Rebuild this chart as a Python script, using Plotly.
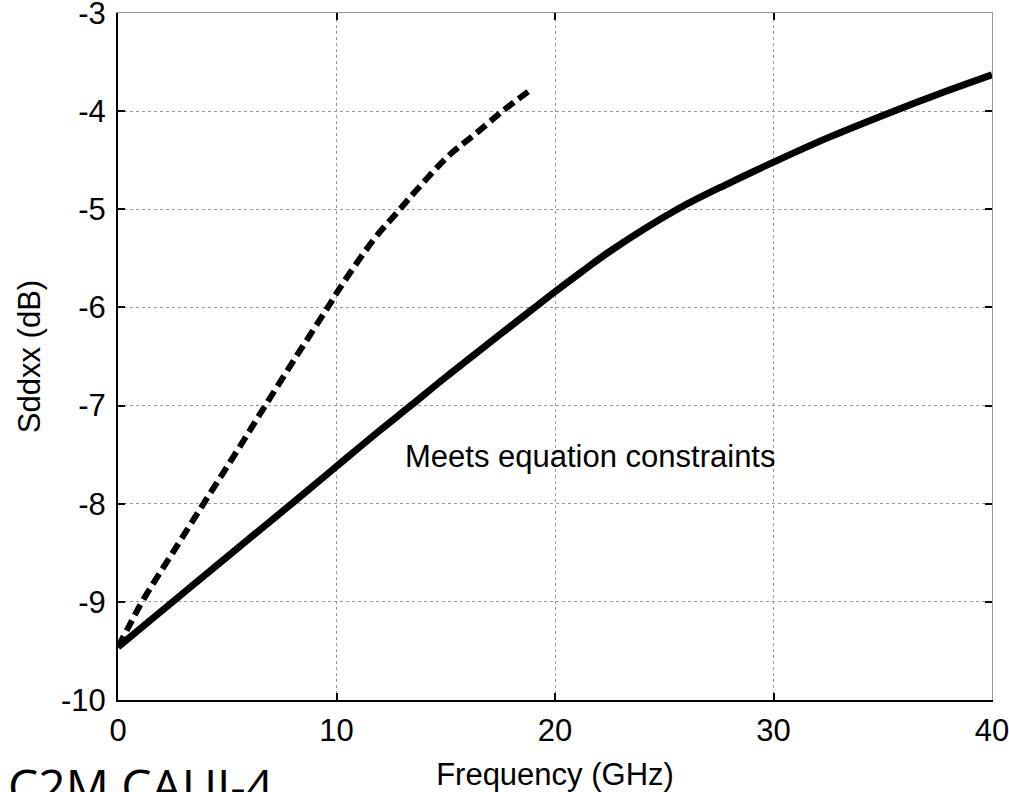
import plotly.graph_objects as go

# ---- data ----
solid_freq = [0, 2.5, 5, 7.95, 10, 12, 13.4, 15, 17, 18.9, 20, 21.2, 22.5, 25.6, 28, 30, 32.5, 35.5, 37.5, 40]
solid_sdd = [-9.46, -9.0, -8.54, -8.0, -7.62, -7.25, -7.0, -6.71, -6.36, -6.03, -5.84, -5.64, -5.43,
             -5.0, -4.73, -4.52, -4.27, -4.0, -3.83, -3.63]

dashed_freq = [0, 0.5, 1.1, 2.5, 4.2, 5.4, 6.6, 8.1, 9.6, 10.16, 11.7, 12.9, 13.8, 15.2, 16.26, 17.6, 18.9]
dashed_sdd = [-9.46, -9.25, -9.0, -8.5, -7.9, -7.48, -7.05, -6.52, -6.0, -5.8, -5.31, -5.0, -4.77,
              -4.44, -4.25, -4.0, -3.78]

x_ticks = [0, 10, 20, 30, 40]
x_ticktext = ["0", "10", "20", "30", "40"]
y_ticks = [-10, -9, -8, -7, -6, -5, -4, -3]
y_ticktext = ["-10", "-9", "-8", "-7", "-6", "-5", "-4", "-3"]

annotation_text = "Meets equation constraints"
corner_text = "C2M CAUI-4"

FONT = "Arial, Liberation Sans, sans-serif"
FS = 31

fig = go.Figure()
fig.add_trace(go.Scatter(x=dashed_freq, y=dashed_sdd, mode="lines",
                         line=dict(color="black", width=6, dash="12px,6px", shape="spline", smoothing=1),
                         showlegend=False, hoverinfo="skip"))
fig.add_trace(go.Scatter(x=solid_freq, y=solid_sdd, mode="lines",
                         line=dict(color="black", width=7, shape="spline", smoothing=1),
                         showlegend=False, hoverinfo="skip"))
# invisible trace for the mirrored (top/right) frame axes
fig.add_trace(go.Scatter(x=[x_ticks[0]], y=[y_ticks[0]], xaxis="x2", yaxis="y2",
                         mode="markers", marker=dict(opacity=0), showlegend=False, hoverinfo="skip"))

common_grid = dict(showgrid=True, gridcolor="#9a9a9a", gridwidth=1, griddash="dot",
                   zeroline=False, ticks="inside", ticklen=7, tickcolor="black", tickwidth=2,
                   automargin=False, ticklabeloverflow="allow")

fig.update_layout(
    width=1009, height=792,
    margin=dict(l=118, r=17, t=13, b=91.5),
    paper_bgcolor="white", plot_bgcolor="white",
    font=dict(family=FONT, size=FS, color="black"),
    xaxis=dict(range=[0, 40], tickvals=x_ticks, ticktext=x_ticktext,
               showline=True, linecolor="black", linewidth=2,
               ticklabelstandoff=2,
               title=dict(text="Frequency (GHz)", font=dict(size=FS), standoff=28),
               **common_grid),
    yaxis=dict(range=[-10, -3], tickvals=y_ticks, ticktext=y_ticktext,
               showline=True, linecolor="black", linewidth=2,
               ticklabelstandoff=4,
               title=dict(text="Sddxx (dB)", font=dict(size=FS), standoff=11),
               **common_grid),
    xaxis2=dict(range=[0, 40], overlaying="x", side="top", tickvals=x_ticks,
                showticklabels=False, showgrid=False, zeroline=False, automargin=False,
                showline=True, linecolor="#9a9a9a", linewidth=1,
                ticks="inside", ticklen=7, tickcolor="black", tickwidth=2),
    yaxis2=dict(range=[-10, -3], overlaying="y", side="right", tickvals=y_ticks,
                showticklabels=False, showgrid=False, zeroline=False, automargin=False,
                showline=True, linecolor="#9a9a9a", linewidth=1,
                ticks="inside", ticklen=7, tickcolor="black", tickwidth=2),
)

fig.add_annotation(x=13.04, y=-7.52, xref="x", yref="y", text=annotation_text,
                   showarrow=False, xanchor="left", yanchor="middle",
                   font=dict(family=FONT, size=FS, color="black"))
fig.add_annotation(x=-118 / 874, y=-0.125, xref="paper", yref="paper", text=corner_text,
                   showarrow=False, xanchor="left", yanchor="middle", xshift=6,
                   font=dict(family="Open Sans, sans-serif", size=48, color="black"))

# remove the default 8px page margin so the figure fills the window exactly
fig.write_html("out.html", config={"displayModeBar": False},
               post_script="document.body.style.margin='0';document.body.style.overflow='hidden';")
